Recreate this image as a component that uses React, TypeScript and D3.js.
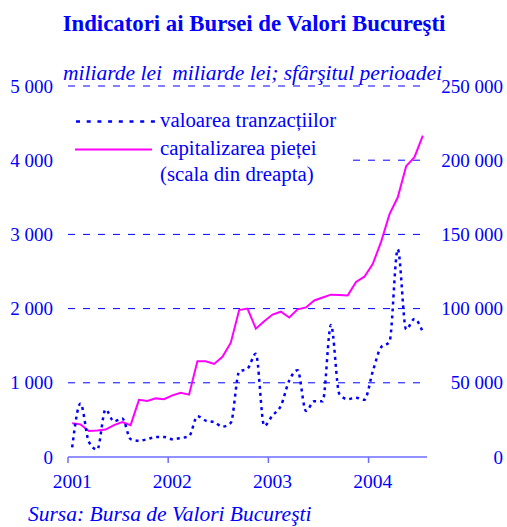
import { useEffect, useRef } from 'react';
import * as d3 from 'd3';

// monthly, Jan 2001 - Jul 2004
const months = d3.range(43);
const years = ['2001', '2002', '2003', '2004'];

// valoarea tranzactiilor, miliarde lei (left scale)
const tradeValue = [
  130, 720, 205, 100, 640, 480, 520, 240, 220, 240, 270, 270,
  240, 255, 280, 550, 490, 470, 410, 460, 1150, 1190, 1390, 420,
  560, 690, 1030, 1170, 620, 750, 750, 1780, 850, 780, 800, 770,
  1150, 1480, 1550, 2800, 1720, 1860, 1680,
];

// capitalizarea pietei, miliarde lei (right scale)
const marketCap = [
  22700, 22000, 17500, 17800, 18500, 21500, 23500, 21500, 38500, 37700, 39500, 38900,
  41500, 43300, 42000, 64500, 64500, 62700, 67500, 77000, 99000, 100000, 86500, 91500,
  96000, 97900, 94000, 99500, 100800, 105500, 107500, 109400, 109200, 108800, 118000, 121500,
  130000, 145000, 163500, 175000, 196000, 202000, 216500,
];

const leftTicks = [0, 1000, 2000, 3000, 4000, 5000];
const rightTicks = [0, 50000, 100000, 150000, 200000, 250000];
const legendText = ['valoarea tranzacțiilor', 'capitalizarea pieței', '(scala din dreapta)'];

const fmt = (v: number) => d3.format(',')(v).replace(/,/g, ' ');

export default function App() {
  const svgRef = useRef<SVGSVGElement>(null);

  useEffect(() => {
    const svg = d3.select(svgRef.current);
    svg.selectAll('*').remove();

    const blue = '#0000ff';
    const font = '"Liberation Serif", "Times New Roman", serif';
    const left = 68, right = 427, top = 86, bottom = 457;

    const x = d3.scaleLinear().domain([-0.5, 42.5]).range([left, right]);
    const yL = d3.scaleLinear().domain([0, 5000]).range([bottom, top]);
    const yR = d3.scaleLinear().domain([0, 250000]).range([bottom, top]);

    // title
    svg.append('text')
      .attr('x', 254).attr('y', 31)
      .attr('text-anchor', 'middle')
      .attr('fill', blue)
      .style('font', `bold 22.8px ${font}`)
      .text('Indicatori ai Bursei de Valori Bucureşti');

    // grid
    svg.append('g').selectAll('line')
      .data(leftTicks.slice(1))
      .enter().append('line')
      .attr('x1', left).attr('x2', right)
      .attr('y1', d => yL(d)).attr('y2', d => yL(d))
      .attr('stroke', blue)
      .attr('stroke-width', 1)
      .attr('stroke-dasharray', '7,8');

    // units
    svg.append('text')
      .attr('x', 63).attr('y', 80)
      .attr('fill', blue)
      .style('font', `italic 21.5px ${font}`)
      .text('miliarde lei');
    svg.append('text')
      .attr('x', 442).attr('y', 80)
      .attr('text-anchor', 'end')
      .attr('fill', blue)
      .style('font', `italic 21.5px ${font}`)
      .text('miliarde lei; sfârşitul perioadei');

    // left axis labels
    svg.append('g').selectAll('text')
      .data(leftTicks)
      .enter().append('text')
      .attr('x', 53).attr('y', d => yL(d) + 6.5)
      .attr('text-anchor', 'end')
      .attr('fill', blue)
      .style('font', `19px ${font}`)
      .text(d => fmt(d));

    // right axis labels
    svg.append('g').selectAll('text')
      .data(rightTicks)
      .enter().append('text')
      .attr('x', 503).attr('y', d => yR(d) + 6.5)
      .attr('text-anchor', 'end')
      .attr('fill', blue)
      .style('font', `19px ${font}`)
      .text(d => fmt(d));

    // x axis
    const axisColor = '#6c6cff';
    svg.append('line')
      .attr('x1', left).attr('x2', right)
      .attr('y1', bottom).attr('y2', bottom)
      .attr('stroke', axisColor).attr('stroke-width', 1.5);
    svg.append('g').selectAll('line')
      .data(years)
      .enter().append('line')
      .attr('x1', (_, i) => x(i * 12 - 0.5)).attr('x2', (_, i) => x(i * 12 - 0.5))
      .attr('y1', bottom).attr('y2', bottom + 6)
      .attr('stroke', axisColor).attr('stroke-width', 1.5);
    svg.append('g').selectAll('text')
      .data(years)
      .enter().append('text')
      .attr('x', (_, i) => x(i * 12))
      .attr('y', 488)
      .attr('text-anchor', 'middle')
      .attr('fill', blue)
      .style('font', `19.5px ${font}`)
      .text(d => d);

    // legend box (white, covers grid)
    svg.append('rect')
      .attr('x', 62).attr('y', 100)
      .attr('width', 283).attr('height', 88)
      .attr('fill', 'white');

    // lines
    const capLine = d3.line<number>()
      .x((_, i) => x(months[i]))
      .y(d => yR(d));
    svg.append('path')
      .datum(marketCap)
      .attr('fill', 'none')
      .attr('stroke', '#ff00ff')
      .attr('stroke-width', 2)
      .attr('d', capLine);

    const tradeLine = d3.line<number>()
      .x((_, i) => x(months[i]))
      .y(d => yL(d))
      .curve(d3.curveMonotoneX);
    svg.append('path')
      .datum(tradeValue)
      .attr('fill', 'none')
      .attr('stroke', blue)
      .attr('stroke-width', 2.5)
      .attr('stroke-dasharray', '3,4')
      .attr('d', tradeLine);

    // legend
    svg.append('line')
      .attr('x1', 76).attr('x2', 156)
      .attr('y1', 121.5).attr('y2', 121.5)
      .attr('stroke', blue).attr('stroke-width', 2.5)
      .attr('stroke-dasharray', '4,6.7');
    svg.append('line')
      .attr('x1', 75).attr('x2', 152)
      .attr('y1', 149.5).attr('y2', 149.5)
      .attr('stroke', '#ff00ff').attr('stroke-width', 2);
    svg.append('g').selectAll('text')
      .data(legendText)
      .enter().append('text')
      .attr('x', 160).attr('y', (_, i) => [127, 155, 181][i])
      .attr('fill', blue)
      .style('font', `20.8px ${font}`)
      .text(d => d);

    // source
    svg.append('text')
      .attr('x', 28).attr('y', 521)
      .attr('fill', blue)
      .style('font', `italic 21.5px ${font}`)
      .text('Sursa: Bursa de Valori Bucureşti');
  }, []);

  return (
    <svg
      ref={svgRef}
      width={507}
      height={527}
      style={{ position: 'absolute', left: 0, top: 0, background: 'white' }}
    />
  );
}
